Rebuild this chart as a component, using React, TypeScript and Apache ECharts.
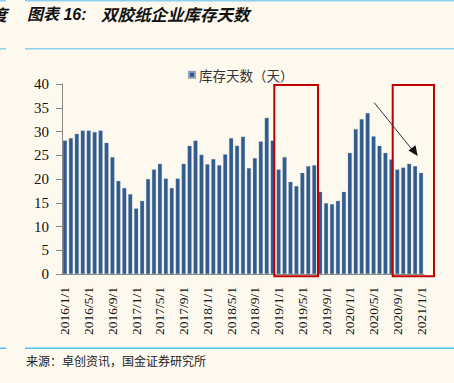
import React, { useEffect, useRef } from "react";
import * as echarts from "echarts";

const categories: string[] = [
  "2016/1/1", "2016/2/1", "2016/3/1", "2016/4/1", "2016/5/1", "2016/6/1", "2016/7/1", "2016/8/1", "2016/9/1", "2016/10/1", "2016/11/1", "2016/12/1",
  "2017/1/1", "2017/2/1", "2017/3/1", "2017/4/1", "2017/5/1", "2017/6/1", "2017/7/1", "2017/8/1", "2017/9/1", "2017/10/1", "2017/11/1", "2017/12/1",
  "2018/1/1", "2018/2/1", "2018/3/1", "2018/4/1", "2018/5/1", "2018/6/1", "2018/7/1", "2018/8/1", "2018/9/1", "2018/10/1", "2018/11/1", "2018/12/1",
  "2019/1/1", "2019/2/1", "2019/3/1", "2019/4/1", "2019/5/1", "2019/6/1", "2019/7/1", "2019/8/1", "2019/9/1", "2019/10/1", "2019/11/1", "2019/12/1",
  "2020/1/1", "2020/2/1", "2020/3/1", "2020/4/1", "2020/5/1", "2020/6/1", "2020/7/1", "2020/8/1", "2020/9/1", "2020/10/1", "2020/11/1", "2020/12/1",
  "2021/1/1",
];

const inventoryDays: number[] = [
  28.1, 28.6, 29.5, 30.2, 30.2, 29.9, 30.2, 27.6, 24.6, 19.6, 18.1, 16.8,
  13.8, 15.4, 20.0, 22.0, 23.2, 20.1, 18.1, 20.1, 23.2, 27.0, 28.1, 25.1,
  23.1, 24.2, 22.9, 25.2, 28.6, 27.0, 28.9, 22.3, 24.4, 27.9, 32.9, 28.1,
  22.0, 24.6, 19.4, 18.5, 21.3, 22.7, 22.9, 17.3, 14.9, 14.7, 15.4, 17.3,
  25.5, 30.5, 32.6, 33.9, 29.0, 27.0, 25.5, 24.1, 22.0, 22.4, 23.2, 22.7,
  21.3,
];

const seriesName = "库存天数（天）";
const titleLabel = "图表 16:";
const titleText = "双胶纸企业库存天数";
const sourceText = "来源：卓创资讯，国金证券研究所";

export default function App() {
  const ref = useRef<HTMLDivElement>(null);
  useEffect(() => {
    document.body.style.margin = "0";
    const chart = echarts.init(ref.current!, undefined, { renderer: "svg" });
    const serif = "'Liberation Serif', 'Times New Roman', serif";
    const cjk = "'Noto Sans CJK SC', sans-serif";
    chart.setOption({
      animation: false,
      backgroundColor: "#FEF9EF",
      grid: { left: 62, right: 30, top: 84, bottom: 109, containLabel: false },
      legend: {
        data: [seriesName],
        left: 183,
        top: 63,
        icon: "rect",
        itemWidth: 6,
        itemHeight: 6,
        itemGap: 4,
        textStyle: { fontSize: 13.5, color: "#333", fontFamily: cjk, padding: [0, 0, 0, -1] },
      },
      xAxis: {
        type: "category",
        data: categories,
        boundaryGap: true,
        axisLine: { lineStyle: { color: "#888", width: 1 } },
        axisTick: { interval: 3, length: 5, lineStyle: { color: "#888" } },
        axisLabel: {
          interval: 3,
          rotate: 90,
          margin: 13,
          fontSize: 13.5,
          color: "#111",
          fontFamily: serif,
        },
      },
      yAxis: {
        type: "value",
        min: 0,
        max: 40,
        interval: 5,
        axisLine: { show: true, lineStyle: { color: "#888", width: 1 } },
        axisTick: { show: true, length: 6, lineStyle: { color: "#888" } },
        splitLine: { show: false },
        axisLabel: { fontSize: 15, color: "#111", fontFamily: serif, margin: 13 },
      },
      series: [
        {
          name: seriesName,
          type: "bar",
          data: inventoryDays,
          barWidth: 4,
          itemStyle: { color: "#2F5B8E", borderColor: "#8FA3BC", borderWidth: 0.3 },
        },
      ],
      graphic: [
        { type: "rect", shape: { x: 0, y: 0, width: 6, height: 1.5 }, style: { fill: "#8DCFEE" } },
        { type: "rect", shape: { x: 25, y: 0, width: 429, height: 1.5 }, style: { fill: "#8DCFEE" } },
        { type: "rect", shape: { x: 0, y: 48, width: 6, height: 1.5 }, style: { fill: "#8DCFEE" } },
        { type: "rect", shape: { x: 25, y: 48, width: 429, height: 1.5 }, style: { fill: "#8DCFEE" } },
        { type: "rect", shape: { x: 0, y: 347.5, width: 6, height: 1.5 }, style: { fill: "#4FC3EE" } },
        { type: "rect", shape: { x: 25, y: 347.5, width: 429, height: 1.5 }, style: { fill: "#4FC3EE" } },
        {
          type: "text",
          x: -9,
          y: 14,
          style: { text: "度", fontSize: 16, fontWeight: "bold", fontStyle: "italic", fill: "#111", fontFamily: cjk, verticalAlign: "middle" },
        },
        {
          type: "text",
          x: 27,
          y: 14,
          style: {
            text: titleLabel,
            fontSize: 16,
            fontWeight: "bold",
            fontStyle: "italic",
            fill: "#111",
            fontFamily: "'Liberation Sans', " + cjk,
            verticalAlign: "middle",
          },
        },
        {
          type: "text",
          x: 101,
          y: 14,
          style: {
            text: titleText,
            fontSize: 16.5,
            fontWeight: "bold",
            fontStyle: "italic",
            fill: "#111",
            fontFamily: cjk,
            verticalAlign: "middle",
          },
        },
        {
          type: "text",
          x: 26,
          y: 360,
          style: { text: sourceText, fontSize: 12, fill: "#222", fontFamily: cjk, verticalAlign: "middle" },
        },
        {
          type: "rect",
          shape: { x: 274.3, y: 85, width: 43.7, height: 191.3 },
          style: { fill: "none", stroke: "#C00000", lineWidth: 2 },
          z: 100,
        },
        {
          type: "rect",
          shape: { x: 392.7, y: 85, width: 41.3, height: 191.3 },
          style: { fill: "none", stroke: "#C00000", lineWidth: 2 },
          z: 100,
        },
        {
          type: "line",
          shape: { x1: 374.3, y1: 102.7, x2: 412, y2: 149.5 },
          style: { stroke: "#333", lineWidth: 1 },
          z: 100,
        },
        {
          type: "polygon",
          shape: { points: [[417.7, 156], [408.5, 150.5], [415.5, 145.3]] },
          style: { fill: "#111" },
          z: 100,
        },
      ],
    });
    return () => chart.dispose();
  }, []);
  return <div ref={ref} style={{ position: "fixed", left: 0, top: 0, width: 454, height: 383 }} />;
}
